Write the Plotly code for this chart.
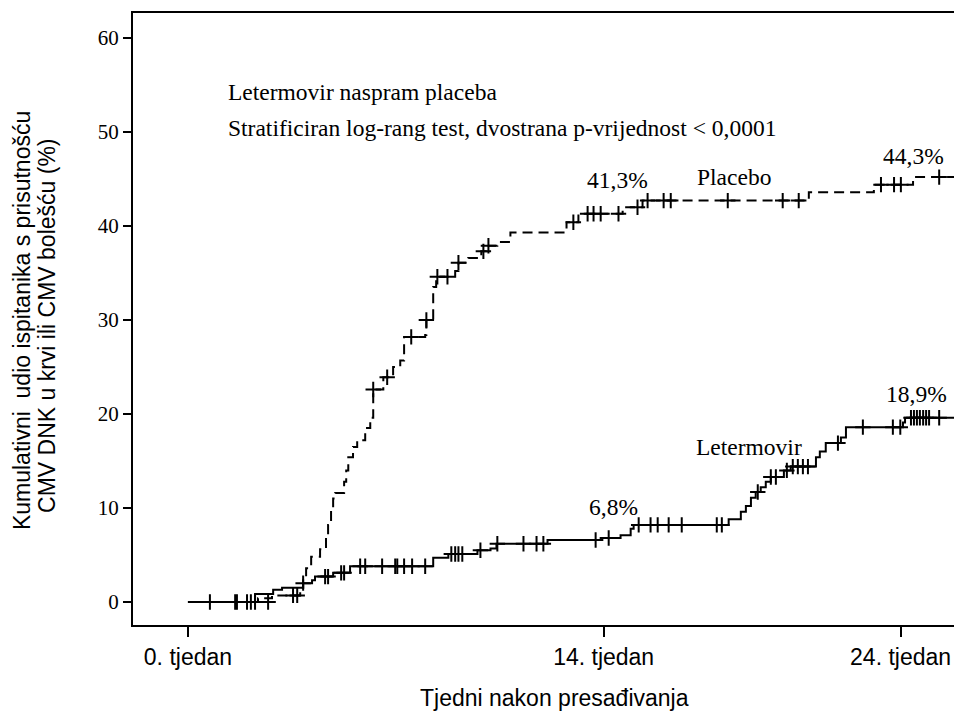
import plotly.graph_objects as go

# ---------------- data (weeks after transplant, cumulative %) ----------------
let_weeks = [0, 2.26, 2.87, 3.17, 3.88, 4.18, 4.28, 4.89, 5.46, 8.26, 8.77, 9.75, 10.19,
             10.39, 12.11, 13.90, 14.57, 14.91, 15.01, 18.21, 18.62, 18.79, 18.96, 19.12,
             19.29, 19.46, 19.63, 20.07, 20.30, 21.15, 21.28, 21.48, 21.99, 22.16, 24.08,
             24.15, 25.87, 26.0]
let_pct = [0, 0.85, 1.3, 1.5, 2.0, 2.3, 2.7, 3.1, 3.8, 4.7, 5.1, 5.5, 5.7,
           6.2, 6.6, 6.8, 7.1, 7.8, 8.2, 8.8, 9.6, 10.2, 11.1, 11.7,
           12.2, 12.8, 13.3, 14.0, 14.4, 15.4, 16.0, 16.9, 17.5, 18.6, 19.1,
           19.6, 20.1, 20.1]

let_cens_weeks = [0.74, 1.59, 1.65, 1.99, 2.12, 3.88, 4.62, 4.72, 5.16, 5.26, 5.80, 5.97,
                  6.54, 6.98, 7.05, 7.28, 7.55, 7.99, 8.87, 9.00, 9.11, 9.24, 9.85, 10.42,
                  11.30, 11.74, 11.97, 13.73, 14.17, 15.18, 15.58, 15.82, 16.19, 16.63,
                  17.81, 17.98, 19.19, 19.63, 19.80, 20.17, 20.37, 20.54, 20.71, 20.88,
                  21.89, 22.73, 23.74, 23.99, 24.35, 24.45, 24.55, 24.65, 24.76, 24.86,
                  24.96, 25.30]
let_cens_pct = [0, 0, 0, 0, 0, 2.0, 2.7, 2.7, 3.1, 3.1, 3.8, 3.8,
                3.8, 3.8, 3.8, 3.8, 3.8, 3.8, 5.1, 5.1, 5.1, 5.1, 5.5, 6.2,
                6.2, 6.2, 6.2, 6.6, 6.8, 8.2, 8.2, 8.2, 8.2, 8.2,
                8.2, 8.2, 11.7, 13.3, 13.3, 14.0, 14.4, 14.4, 14.4, 14.4,
                16.9, 18.6, 18.6, 18.6, 19.6, 19.6, 19.6, 19.6, 19.6, 19.6,
                19.6, 19.6]

pla_weeks = [0, 2.36, 2.83, 3.78, 3.88, 3.98, 4.15, 4.45, 4.65, 4.72, 4.82, 4.89, 4.96,
             5.26, 5.33, 5.40, 5.56, 5.70, 5.97, 6.14, 6.24, 6.58, 6.91, 7.15, 7.28,
             7.99, 8.03, 8.26, 8.36, 9.00, 9.11, 9.44, 9.88, 10.05, 10.42, 10.86,
             12.75, 13.15, 14.64, 15.31, 20.91, 23.10, 24.42, 26.0]
pla_pct = [0, 0.4, 0.7, 1.5, 2.5, 3.6, 4.8, 5.6, 7.0, 8.2, 9.7, 11.0, 11.6,
           12.8, 14.0, 15.4, 16.5, 17.2, 18.5, 19.6, 22.6, 23.9, 25.0, 25.7, 28.2,
           28.4, 30.0, 33.5, 34.6, 35.2, 36.1, 36.6, 37.3, 37.9, 38.3, 39.3,
           40.4, 41.3, 42.0, 42.7, 43.6, 44.4, 45.2, 45.2]

pla_cens_weeks = [2.26, 2.70, 3.54, 3.68, 6.24, 6.71, 7.52, 8.03, 8.40, 8.74, 9.11, 9.95,
                  10.12, 12.98, 13.46, 13.66, 13.90, 14.50, 15.14, 15.48, 16.02, 16.26,
                  18.18, 20.03, 20.57, 23.34, 23.78, 24.01, 25.30]
pla_cens_pct = [0, 0, 0.7, 0.7, 22.6, 23.9, 28.2, 30.0, 34.6, 34.6, 36.1, 37.3,
                37.9, 40.4, 41.3, 41.3, 41.3, 41.3, 42.0, 42.7, 42.7, 42.7,
                42.7, 42.7, 42.7, 44.4, 44.4, 44.4, 45.2]

x_tick_vals = [0, 14, 24]
x_tick_text = ["0. tjedan", "14. tjedan", "24. tjedan"]
y_tick_vals = [0, 10, 20, 30, 40, 50, 60]

# ---------------- figure ----------------
SERIF = "Liberation Serif, Times New Roman, serif"
SANS = "Liberation Sans, Arial, sans-serif"
BLACK = "#000000"

fig = go.Figure()

fig.add_trace(go.Scatter(x=pla_weeks, y=pla_pct, mode="lines", line_shape="hv",
                         line=dict(color=BLACK, width=2, dash="10px,6px"),
                         showlegend=False, hoverinfo="skip"))
fig.add_trace(go.Scatter(x=let_weeks, y=let_pct, mode="lines", line_shape="hv",
                         line=dict(color=BLACK, width=2),
                         showlegend=False, hoverinfo="skip"))
for xs, ys in ((pla_cens_weeks, pla_cens_pct), (let_cens_weeks, let_cens_pct)):
    fig.add_trace(go.Scatter(x=xs, y=ys, mode="markers",
                             marker=dict(symbol="cross-thin", size=11, color=BLACK,
                                         line=dict(color=BLACK, width=2)),
                             showlegend=False, hoverinfo="skip"))

ann_font = dict(family=SERIF, size=23.5, color=BLACK)
annotations = [
    dict(x=1.28, y=54.3, text="Letermovir naspram placeba", xanchor="left"),
    dict(x=1.28, y=50.4, text="Stratificiran log-rang test, dvostrana p-vrijednost &lt; 0,0001",
         xanchor="left"),
    dict(x=14.47, y=44.9, text="41,3%", xanchor="center"),
    dict(x=24.45, y=47.4, text="44,3%", xanchor="center"),
    dict(x=18.38, y=45.2, text="Placebo", xanchor="center"),
    dict(x=14.33, y=10.1, text="6,8%", xanchor="center"),
    dict(x=24.55, y=22.1, text="18,9%", xanchor="center"),
    dict(x=18.89, y=16.5, text="Letermovir", xanchor="center"),
]
for a in annotations:
    fig.add_annotation(xref="x", yref="y", yanchor="middle", showarrow=False,
                       font=ann_font, **a)

title_font = dict(family=SANS, size=23, color=BLACK)
fig.add_annotation(xref="paper", yref="paper", x=-0.1344, y=0.497, textangle=-90,
                   text="Kumulativni  udio ispitanika s prisutnošću", showarrow=False,
                   xanchor="center", yanchor="middle", font=title_font)
fig.add_annotation(xref="paper", yref="paper", x=-0.1041, y=0.489, textangle=-90,
                   text="CMV DNK u krvi ili CMV bolešću (%)", showarrow=False,
                   xanchor="center", yanchor="middle", font=title_font)
fig.add_annotation(xref="paper", yref="paper", x=0.511, y=-0.119,
                   text="Tjedni nakon presađivanja", showarrow=False,
                   xanchor="center", yanchor="middle", font=title_font)

# page body adds an 8px margin, so the figure is sized to fit the 962x715 window
fig.update_layout(
    width=954, height=707,
    margin=dict(l=125, r=3, t=5, b=90),
    paper_bgcolor="white", plot_bgcolor="white",
    xaxis=dict(range=[-1.85, 25.9], tickvals=x_tick_vals, ticktext=x_tick_text,
               ticks="outside", ticklen=10, tickwidth=2, tickcolor=BLACK,
               showline=True, linecolor=BLACK, linewidth=2, mirror=True,
               showgrid=False, zeroline=False,
               tickfont=dict(family=SANS, size=23, color=BLACK)),
    yaxis=dict(range=[-2.45, 62.66], tickvals=y_tick_vals,
               ticks="outside", ticklen=8, tickwidth=2, tickcolor=BLACK,
               showline=True, linecolor=BLACK, linewidth=2, mirror=True,
               showgrid=False, zeroline=False,
               tickfont=dict(family=SERIF, size=21, color=BLACK)),
)

fig.write_html("out.html")
